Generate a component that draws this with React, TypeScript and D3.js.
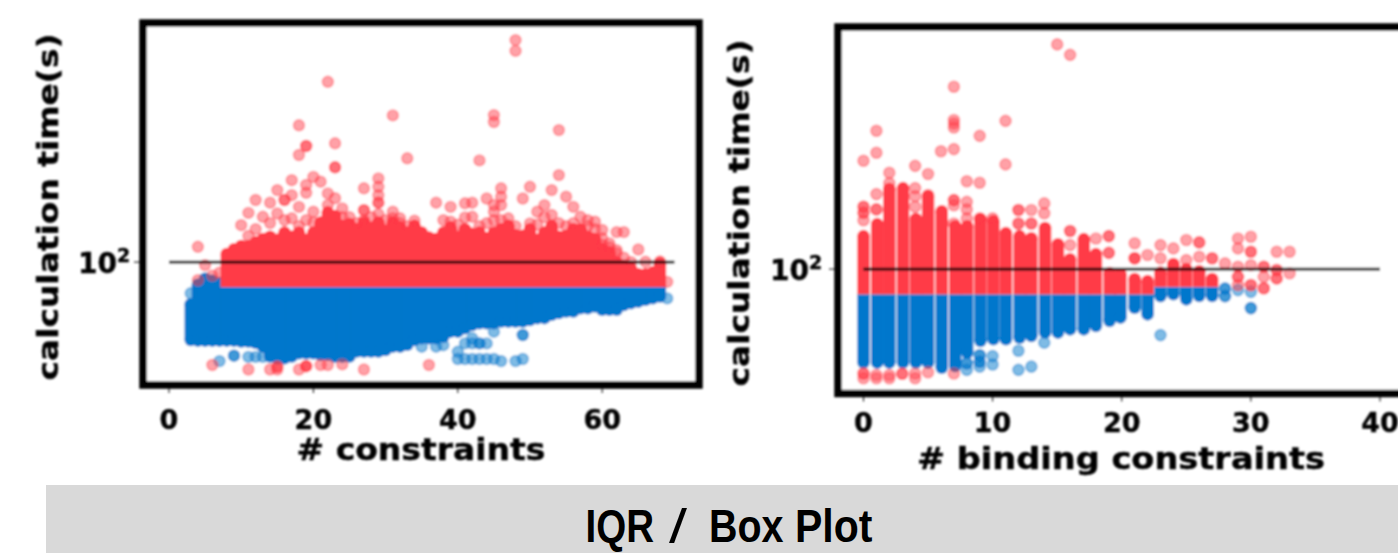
import React from "react";
import * as d3 from "d3";

// All y values are log10(seconds); the plots are on a log axis.
const leftColumnX = [3,4,5,6,7,8,9,10,11,12,13,14,15,16,17,18,19,20,21,22,23,24,25,26,27,28,29,30,31,32,33,34,35,36,37,38,39,40,41,42,43,44,45,46,47,48,49,50,51,52,53,54,55,56,57,58,59,60,61,62,63,64,65,66,67,68];
const leftRedTop = [null,null,null,null,null,2.027,2.043,2.054,2.054,2.066,2.077,2.085,2.075,2.099,2.085,2.099,2.075,2.099,2.132,2.166,2.154,2.121,2.127,2.11,2.132,2.115,2.132,2.105,2.132,2.116,2.099,2.121,2.099,2.082,2.077,2.099,2.116,2.085,2.11,2.095,2.099,2.08,2.099,2.11,2.121,2.09,2.088,2.11,2.075,2.099,2.121,2.085,2.088,2.11,2.11,2.085,2.077,2.043,2.032,2.0,1.988,1.977,1.96,1.96,1.966,1.993];
const leftBlueTop = [1.86,1.925,1.945,1.938,1.93,1.917,1.917,1.917,1.917,1.917,1.917,1.917,1.917,1.917,1.917,1.917,1.917,1.917,1.917,1.917,1.917,1.917,1.917,1.917,1.917,1.917,1.917,1.917,1.917,1.917,1.917,1.917,1.917,1.917,1.917,1.917,1.917,1.917,1.917,1.917,1.917,1.917,1.917,1.917,1.917,1.917,1.917,1.917,1.917,1.917,1.917,1.917,1.917,1.917,1.917,1.917,1.917,1.917,1.917,1.917,1.917,1.917,1.917,1.917,1.917,1.917];
const leftBlueBottom = [1.74,1.738,1.738,1.738,1.738,1.738,1.738,1.735,1.735,1.731,1.718,1.685,1.679,1.679,1.685,1.696,1.696,1.696,1.691,1.691,1.685,1.685,1.685,1.702,1.702,1.702,1.702,1.707,1.718,1.718,1.724,1.74,1.746,1.746,1.746,1.751,1.768,1.768,1.779,1.79,1.796,1.796,1.796,1.802,1.802,1.802,1.802,1.807,1.813,1.813,1.824,1.83,1.835,1.835,1.846,1.846,1.852,1.841,1.841,1.841,1.857,1.863,1.868,1.874,1.879,1.885];
const leftThreshold = 1.917;

const leftRedPoints: [number, number][] = [[48,2.74],[48,2.704],[22,2.601],[31,2.489],[45,2.49],[45,2.467],[18,2.456],[54,2.44],[23,2.396],[19,2.387],[19,2.387],[18,2.357],[33,2.346],[43,2.339],[23,2.316],[23,2.316],[54,2.29],[20,2.284],[29,2.279],[17,2.273],[29,2.251],[19,2.257],[21,2.268],[50,2.251],[15,2.24],[46,2.246],[27,2.246],[53,2.24],[19,2.231],[22,2.229],[29,2.223],[17,2.223],[55,2.218],[23,2.213],[44,2.212],[49,2.212],[46,2.218],[12,2.207],[16,2.207],[16,2.207],[14,2.198],[37,2.198],[29,2.198],[29,2.198],[41,2.196],[42,2.198],[46,2.19],[45,2.19],[39,2.184],[52,2.19],[18,2.184],[24,2.179],[56,2.184],[27,2.173],[27,2.173],[20,2.168],[31,2.168],[45,2.168],[51,2.168],[11,2.164],[53,2.157],[57,2.151],[13,2.151],[15,2.162],[17,2.146],[42,2.151],[41,2.149],[31,2.146],[32,2.146],[34,2.138],[20,2.132],[10,2.123],[39,2.135],[47,2.146],[50,2.129],[58,2.14],[59,2.135],[60,2.107],[62,2.1],[63,2.1],[65,2.042],[68,2.001],[68,2.001],[66,2.001],[60,2.057],[61,2.062],[62,2.04],[4,2.051],[5,1.99],[4,1.94],[69,1.934],[6,1.955],[7,1.965],[11,2.087],[12,2.11],[14,2.13],[16,2.14],[18,2.12],[19,2.14],[22,2.19],[24,2.15],[25,2.15],[26,2.13],[27,2.14],[28,2.15],[29,2.16],[30,2.14],[32,2.13],[33,2.12],[38,2.14],[40,2.125],[43,2.12],[44,2.13],[45,2.14],[46,2.14],[48,2.12],[51,2.125],[52,2.15],[54,2.13],[55,2.12],[56,2.13],[58,2.12],[59,2.11],[60,2.08],[61,2.05],[62,2.03],[63,2.015],[64,2.0]];
const leftRedLow: [number, number][] = [[6,1.657],[11,1.642],[14,1.642],[15,1.651],[15,1.651],[15,1.642],[18,1.642],[19,1.653],[19,1.653],[19,1.653],[21,1.657],[22,1.657],[24,1.659],[27,1.642],[36,1.657]];
const leftBluePoints: [number, number][] = [[3,1.896],[9,1.688],[9,1.688],[11,1.684],[7,1.67],[12,1.684],[13,1.684],[40,1.701],[40,1.677],[41,1.729],[42,1.729],[43,1.729],[43,1.729],[44,1.729],[41,1.677],[42,1.677],[43,1.677],[44,1.677],[45,1.677],[46,1.67],[48,1.67],[49,1.677],[49,1.757],[49,1.757],[37,1.718],[38,1.723],[35,1.718],[45,1.768],[42,1.746],[69,1.879]];

const rightColumnX = [0,1.06,2,3.06,4.06,5,6.06,7.1,8.03,9.06,10.06,11.03,12.09,13,14.06,15.06,16,17.06,18,19.06,19.9,21,22,23,24,25,26,27];
const rightRedTop = [2.11,2.15,2.267,2.27,2.167,2.243,2.193,2.143,2.143,2.167,2.16,2.12,2.11,2.103,2.137,2.083,2.033,2.1,2.05,1.987,1.983,1.967,1.96,1.989,2.017,2.0,1.993,1.967];
const rightBlueBottom = [1.688,1.688,1.688,1.688,1.688,1.688,1.671,1.677,1.721,1.76,1.766,1.766,1.771,1.777,1.788,1.788,1.799,1.799,1.81,1.827,1.838,1.871,1.849,1.91,1.916,1.899,1.91,1.91];
const rightThreshold = [1.916,1.916,1.916,1.916,1.916,1.916,1.916,1.916,1.916,1.916,1.916,1.916,1.916,1.916,1.916,1.916,1.916,1.916,1.916,1.916,1.916,1.916,1.916,1.941,1.941,1.941,1.941,1.941];

const rightRedPoints: [number, number][] = [[15,2.749],[16,2.714],[7,2.608],[7,2.497],[7,2.472],[7,2.485],[11,2.494],[1,2.461],[9,2.444],[1,2.388],[6,2.393],[7,2.4],[0,2.361],[11,2.349],[4,2.344],[2,2.321],[5,2.317],[8,2.293],[9,2.288],[2,2.286],[4,2.27],[4,2.243],[4,2.208],[5,2.247],[0,2.208],[0,2.208],[0,2.188],[0,2.188],[0,2.163],[1,2.199],[1,2.199],[1,2.25],[7,2.23],[7,2.23],[7,2.213],[8,2.224],[8,2.199],[8,2.169],[7,2.152],[9,2.169],[10,2.169],[12,2.197],[12,2.197],[13,2.197],[12,2.152],[12,2.152],[13,2.152],[13,2.152],[14,2.219],[14,2.186],[16,2.127],[16,2.127],[16,2.08],[18,2.102],[19,2.11],[19,2.11],[19,2.054],[19,2.054],[21,2.086],[21,2.036],[21,2.036],[21,2.036],[22,2.047],[23,2.08],[23,2.036],[24,2.069],[25,2.097],[25,2.03],[26,2.089],[26,2.089],[26,2.041],[27,2.036],[27,2.036],[28,2.019],[29,2.102],[29,2.069],[29,2.008],[29,1.974],[29,1.974],[29,1.947],[30,2.108],[30,2.058],[30,2.058],[30,2.013],[30,1.947],[30,1.947],[31,2.008],[31,2.008],[31,1.974],[31,1.936],[31,1.936],[32,2.058],[32,1.997],[32,1.997],[32,1.969],[32,1.969],[33,2.058],[33,1.986]];
const rightRedLow: [number, number][] = [[0,1.652],[0,1.652],[0,1.636],[1,1.647],[1,1.636],[2,1.647],[2,1.636],[3,1.651],[3,1.651],[4,1.652],[4,1.636],[5,1.656],[7,1.652]];
const rightBluePoints: [number, number][] = [[23,1.78],[23,1.91],[28,1.935],[28,1.935],[28,1.91],[28,1.91],[29,1.93],[30,1.924],[30,1.87],[30,1.87],[14,1.755],[12,1.728],[12,1.664],[13,1.675],[9,1.713],[9,1.713],[9,1.691],[9,1.691],[9,1.675],[10,1.71],[10,1.682],[8,1.686],[8,1.686],[8,1.664]];

const leftXTicks = [0,20,40,60];
const rightXTicks = [0,10,20,30,40];
const yTicks = [100];
const medianLineLeft = [0,70];
const medianLineRight = [0,40];
const leftXLabel = "# constraints";
const rightXLabel = "# binding constraints";
const yLabel = "calculation time(s)";
const bannerWords = ["IQR", "/", "Box", "Plot"];

const RED = "#ff3b47";
const BLUE = "#0077cc";
const W = 1398, H = 553;
const FONT = "'DejaVu Sans', sans-serif";
const NARROW = "'Liberation Sans Narrow', 'Liberation Sans', sans-serif";

type Col = { x: number; top: number | null; thr: number; bot: number; blueTop?: number };

function Panel({ frame, xDomain, xRange, yDomain, yRange, cols, red, blue, low, r, dotR, xTicks, line, xLabel, xLabelY, tickY, xLabelLen, yLabelX, yLabelY, y10X }: any) {
  const xs = d3.scaleLinear().domain(xDomain).range(xRange);
  const ys = d3.scaleLog().domain(yDomain).range(yRange);
  const Y = (e: number) => ys(Math.pow(10, e));
  const cw = 2 * r;
  const dot = dotR - 0.7;
  return (
    <g>
      <rect x={frame.x} y={frame.y} width={frame.w} height={frame.h} fill="#fff" />
      {(cols as Col[]).map((c, i) => (
        <g key={"b" + i} fill={BLUE}>
          <rect x={xs(c.x) - r} y={Y(c.blueTop ?? c.thr)} width={cw} height={Math.max(0, Y(c.bot) - Y(c.blueTop ?? c.thr))} />
          <circle cx={xs(c.x)} cy={Y(c.bot)} r={r} />
          {c.blueTop != null && c.blueTop !== c.thr ? <circle cx={xs(c.x)} cy={Y(c.blueTop)} r={r} /> : null}
        </g>
      ))}
      {(blue as [number, number][]).map((p, i) => (
        <circle key={"bp" + i} cx={xs(p[0])} cy={Y(p[1])} r={dot} fill={BLUE} fillOpacity={0.5} stroke={BLUE} strokeOpacity={0.5} strokeWidth={1.4} />
      ))}
      {(cols as Col[]).filter(c => c.top != null).map((c, i) => (
        <g key={"r" + i} fill={RED}>
          <rect x={xs(c.x) - r} y={Y(c.top as number)} width={cw} height={Math.max(0, Y(c.thr) - Y(c.top as number))} />
          <circle cx={xs(c.x)} cy={Y(c.top as number)} r={r} />
        </g>
      ))}
      {([...red, ...low] as [number, number][]).map((p, i) => (
        <circle key={"rp" + i} cx={xs(p[0])} cy={Y(p[1])} r={dot} fill={RED} fillOpacity={0.48} stroke={RED} strokeOpacity={0.48} strokeWidth={1.4} />
      ))}
      <line x1={xs(line[0])} x2={xs(line[1])} y1={Y(2)} y2={Y(2)} stroke="#000" strokeWidth={2.6} />
      <rect x={frame.x} y={frame.y} width={frame.w} height={frame.h} fill="none" stroke="#000" strokeWidth={7.5} />
      {(xTicks as number[]).map(t => (
        <g key={t}>
          <line x1={xs(t)} x2={xs(t)} y1={frame.y + frame.h + 3} y2={frame.y + frame.h + 8} stroke="#000" strokeWidth={1} />
          <text x={xs(t)} y={tickY} textAnchor="middle" fontFamily={FONT} fontWeight="bold" fontSize={27} stroke="#000" strokeWidth={0.4}>{t}</text>
        </g>
      ))}
      {yTicks.map(t => (
        <g key={t}>
          <line x1={frame.x - 9} x2={frame.x - 3} y1={ys(t)} y2={ys(t)} stroke="#000" strokeWidth={1} />
          <text x={y10X} y={ys(t) + 11} fontFamily={FONT} fontWeight="bold" fontSize={28} stroke="#000" strokeWidth={0.4}>10<tspan dy={-11} fontSize={19}>2</tspan></text>
        </g>
      ))}
      <text x={frame.labelCx} y={xLabelY} textAnchor="middle" fontFamily={FONT} fontWeight="bold" fontSize={30} stroke="#000" strokeWidth={0.4} textLength={xLabelLen} lengthAdjust="spacingAndGlyphs">{xLabel}</text>
      <text transform={`translate(${yLabelX},${yLabelY}) rotate(-90)`} textAnchor="middle" fontFamily={FONT} fontWeight="bold" fontSize={29} stroke="#000" strokeWidth={0.4} textLength={347} lengthAdjust="spacingAndGlyphs">{yLabel}</text>
    </g>
  );
}

export default function App() {
  const leftCols: Col[] = leftColumnX.map((x, i) => ({ x, top: leftRedTop[i], thr: leftThreshold, bot: leftBlueBottom[i], blueTop: leftBlueTop[i] }));
  const rightCols: Col[] = rightColumnX.map((x, i) => ({ x, top: rightRedTop[i], thr: rightThreshold[i], bot: rightBlueBottom[i] }));
  const wordBoxes = [[585.5, 68.5], [669, 18], [709, 74.5], [795, 77.5]];
  return (
    <svg width={W} height={H} viewBox={`0 0 ${W} ${H}`} style={{ position: "absolute", left: 0, top: 0, background: "#fff" }}>
      <defs>
        <filter id="soft" filterUnits="userSpaceOnUse" x="0" y="0" width={W} height={H}>
          <feGaussianBlur stdDeviation="0.8" />
        </filter>
      </defs>
      <g filter="url(#soft)">
        <Panel
          frame={{ x: 143, y: 23, w: 556, h: 362, labelCx: 421 }}
          xDomain={[0, 70]} xRange={[169, 674.4]}
          yDomain={[Math.pow(10, 1.597), Math.pow(10, 2.787)]} yRange={[383, 26]}
          cols={leftCols} red={leftRedPoints} blue={leftBluePoints} low={leftRedLow} r={6.2} dotR={6.2}
          xTicks={leftXTicks} line={medianLineLeft} xLabel={leftXLabel} xLabelY={460} tickY={429} xLabelLen={249}
          yLabelX={58} yLabelY={207} y10X={78}
        />
        <Panel
          frame={{ x: 838, y: 27, w: 600, h: 366.5, labelCx: 1121 }}
          xDomain={[0, 40]} xRange={[863.5, 1380]}
          yDomain={[Math.pow(10, 1.597), Math.pow(10, 2.797)]} yRange={[390, 30]}
          cols={rightCols} red={rightRedPoints} blue={rightBluePoints} low={rightRedLow} r={6.25} dotR={6.3}
          xTicks={rightXTicks} line={medianLineRight} xLabel={rightXLabel} xLabelY={469} tickY={432} xLabelLen={408}
          yLabelX={749} yLabelY={213} y10X={770}
        />
      </g>
      <rect x={46} y={485} width={W - 46} height={68} fill="#d9d9d9" />
      {bannerWords.map((w, i) => (
        <text key={w} x={wordBoxes[i][0]} y={w === "/" ? 543 : 542} fontFamily={NARROW} fontWeight={w === "/" ? "normal" : "bold"} fontSize={w === "/" ? 48 : 46} fill="#000" textLength={wordBoxes[i][1]} lengthAdjust="spacingAndGlyphs">{w}</text>
      ))}
    </svg>
  );
}
